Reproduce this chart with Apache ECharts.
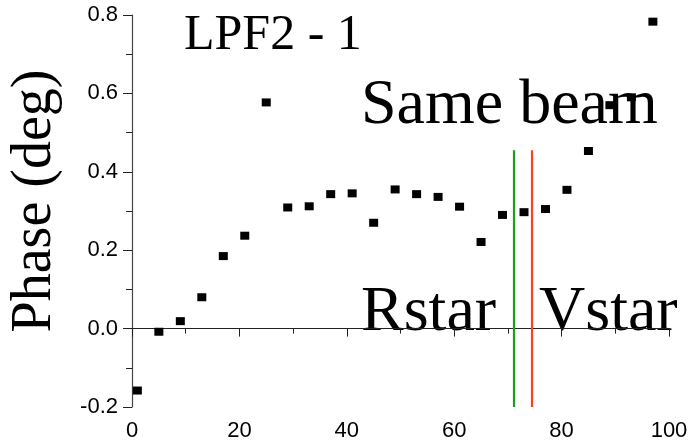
<!DOCTYPE html>
<html>
<head>
<meta charset="utf-8">
<script src="https://cdn.jsdelivr.net/npm/echarts@6/dist/echarts.min.js"></script>
<style>
html, body { margin: 0; padding: 0; background: #fff; }
#main { width: 693px; height: 448px; }
</style>
</head>
<body>
<div id="main"></div>
<script>
var xValues = [1, 5, 9, 13, 17, 21, 25, 29, 33, 37, 41, 45, 49, 53, 57, 61, 65, 69, 73, 77, 81, 85, 89, 93, 97];
var phaseValues = [-0.158, -0.008, 0.019, 0.080, 0.185, 0.237, 0.577, 0.309, 0.312, 0.343, 0.345, 0.270,
	0.355, 0.343, 0.336, 0.311, 0.221, 0.290, 0.297, 0.305, 0.354, 0.453, 0.570, 0.590, 0.783];
var markerX = [71, 74.4];
var markerColors = ['#1e9e1e', '#ff4020'];
var markerTop = 0.455;
var yTitle = 'Phase (deg)';

var dom = document.getElementById("main");
var myChart = echarts.init(dom);

var points = [];
for (var i = 0; i < xValues.length; i++) {
	points.push([xValues[i], phaseValues[i]]);
}

var markLines = [];
for (var j = 0; j < markerX.length; j++) {
	markLines.push([
		{ coord: [markerX[j], -0.2], lineStyle: { color: markerColors[j], width: 2.2, type: 'solid' } },
		{ coord: [markerX[j], markerTop] }
	]);
}

var serif = '"Liberation Serif", "DejaVu Serif", serif';

option = {
	animation: false,
	grid: {
		left: 132,
		right: 24,
		top: 15,
		bottom: 41
	},
	xAxis: {
		type: 'value',
		min: 0,
		max: 100,
		interval: 20,
		axisLine: { lineStyle: { color: '#222', width: 1.2 } },
		axisTick: { show: true, length: 8, lineStyle: { color: '#222' } },
		minorTick: { show: true, splitNumber: 2, length: 5, lineStyle: { color: '#222' } },
		splitLine: { show: false },
		axisLabel: {
			color: '#000',
			fontSize: 22,
			fontFamily: '"Liberation Sans", Arial, sans-serif',
			margin: 13
		}
	},
	yAxis: {
		type: 'value',
		min: -0.2,
		max: 0.8,
		interval: 0.2,
		axisLine: { show: true, lineStyle: { color: '#444', width: 1.2 } },
		axisTick: { show: true, length: 9, lineStyle: { color: '#222' } },
		minorTick: { show: true, splitNumber: 2, length: 6, lineStyle: { color: '#222' } },
		splitLine: { show: false },
		axisLabel: {
			color: '#000',
			fontSize: 22,
			fontFamily: '"Liberation Sans", Arial, sans-serif',
			margin: 14,
			formatter: function (v) { return v.toFixed(1); }
		}
	},
	graphic: [
		{
			type: 'text', x: 35, y: 201, rotation: Math.PI / 2,
			style: { text: yTitle, font: '56px ' + serif, fill: '#000', textAlign: 'center', textVerticalAlign: 'middle' }
		},
		{
			type: 'text', x: 184, y: 36,
			style: { text: 'LPF2 - 1', font: '50px ' + serif, fill: '#000', textAlign: 'left', textVerticalAlign: 'middle' }
		},
		{
			type: 'text', x: 361, y: 106,
			style: { text: 'Same beam', font: '64px ' + serif, fill: '#000', textAlign: 'left', textVerticalAlign: 'middle' }
		},
		{
			type: 'text', x: 361, y: 313,
			style: { text: 'Rstar', font: '64px ' + serif, fill: '#000', textAlign: 'left', textVerticalAlign: 'middle' }
		},
		{
			type: 'text', x: 539, y: 313,
			style: { text: 'Vstar', font: '64px ' + serif, fill: '#000', textAlign: 'left', textVerticalAlign: 'middle' }
		}
	],
	series: [{
		type: 'scatter',
		data: points,
		symbol: 'rect',
		symbolSize: [9, 8],
		itemStyle: { color: '#000', opacity: 1, borderWidth: 0 },
		markLine: {
			silent: true,
			symbol: ['none', 'none'],
			label: { show: false },
			data: markLines
		}
	}]
};
if (option && typeof option === "object") {
	myChart.setOption(option, true);
}
</script>
</body>
</html>
